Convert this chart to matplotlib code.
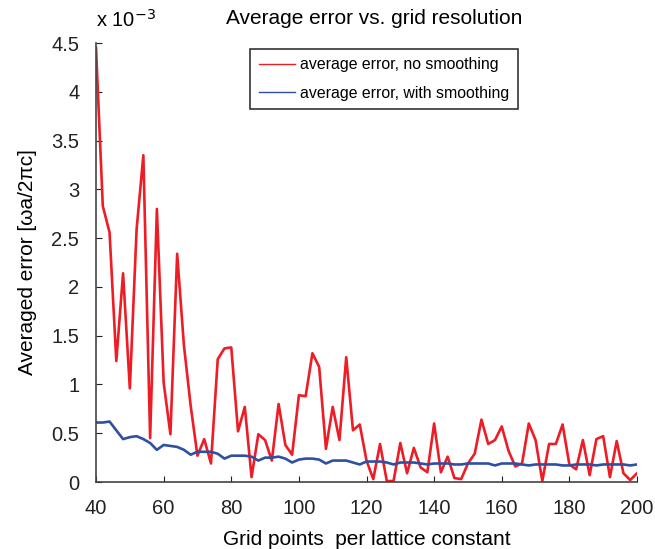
import matplotlib
matplotlib.use("Agg")
import matplotlib.pyplot as plt
import numpy as np

plt.rcParams['font.family'] = ['Liberation Sans', 'DejaVu Sans']

# grid points per lattice constant, every 2 from 40 to 200
grid = np.arange(40, 201, 2)

# average error in units of 1e-3
err_raw = [4.45, 2.83, 2.56, 1.24, 2.14, 0.96, 2.59, 3.35, 0.45, 2.80,
           1.02, 0.49, 2.34, 1.40, 0.78, 0.27, 0.44, 0.19, 1.26, 1.37,
           1.38, 0.52, 0.77, 0.05, 0.49, 0.43, 0.22, 0.80, 0.38, 0.28,
           0.89, 0.88, 1.32, 1.18, 0.34, 0.77, 0.43, 1.28, 0.53, 0.59,
           0.22, 0.03, 0.39, 0.01, 0.01, 0.40, 0.09, 0.35, 0.15, 0.10,
           0.60, 0.10, 0.26, 0.04, 0.03, 0.19, 0.29, 0.64, 0.39, 0.43,
           0.57, 0.32, 0.16, 0.19, 0.60, 0.43, 0.01, 0.39, 0.39, 0.59,
           0.18, 0.13, 0.43, 0.07, 0.44, 0.47, 0.05, 0.42, 0.09, 0.02,
           0.09]

err_smooth = [0.61, 0.61, 0.62, 0.53, 0.44, 0.46, 0.47, 0.44, 0.40, 0.33,
              0.38, 0.37, 0.36, 0.33, 0.28, 0.31, 0.31, 0.31, 0.29, 0.24,
              0.27, 0.27, 0.27, 0.26, 0.22, 0.25, 0.25, 0.26, 0.24, 0.20,
              0.23, 0.24, 0.24, 0.23, 0.19, 0.22, 0.22, 0.22, 0.20, 0.18,
              0.21, 0.21, 0.21, 0.20, 0.18, 0.20, 0.20, 0.20, 0.19, 0.18,
              0.19, 0.19, 0.19, 0.18, 0.18, 0.19, 0.19, 0.19, 0.19, 0.17,
              0.19, 0.19, 0.19, 0.18, 0.17, 0.18, 0.18, 0.18, 0.18, 0.17,
              0.17, 0.18, 0.18, 0.18, 0.17, 0.18, 0.18, 0.18, 0.18, 0.17,
              0.18]

xticks = np.arange(40, 201, 20)
yticks = np.arange(0, 4.51, 0.5)

fig = plt.figure(figsize=(6.55, 5.49), dpi=100)
ax = fig.add_axes([0.1466, 0.122, 0.8259, 0.7995])

ax.plot(grid, err_raw, color='#ee1c25', lw=1.9, label='average error, no smoothing')
ax.plot(grid, err_smooth, color='#2f4fa2', lw=1.9, label='average error, with smoothing')

ax.set_xlim(40, 200)
ax.set_ylim(0, 4.5)
ax.set_xticks(xticks)
ax.set_yticks(yticks)
ax.set_yticklabels(['%g' % v for v in yticks])
ax.tick_params(direction='in', length=4, labelsize=14.5, colors='#222222')
ax.tick_params(axis='x', pad=12)
ax.tick_params(axis='y', pad=12)
for s in ['top', 'right']:
    ax.spines[s].set_visible(False)
for s in ['left', 'bottom']:
    ax.spines[s].set_color('#444444')
    ax.spines[s].set_linewidth(1.2)

ax.set_xlabel('Grid points  per lattice constant', fontsize=15, labelpad=9)
ax.set_ylabel('Averaged error [\u03c9a/2\u03c0c]', fontsize=15, labelpad=10)

fig.text(96/655, 1 - 20/549, 'x 10$^{-3}$', fontsize=14.5, va='center', ha='left')
fig.text(374/655, 1 - 18/549, 'Average error vs. grid resolution', fontsize=15,
         va='center', ha='center')

leg = ax.legend(loc='upper left', bbox_to_anchor=(0.2847, 0.9875), borderaxespad=0,
                fontsize=11.4, frameon=True, fancybox=False, edgecolor='black',
                handlelength=2.3, handletextpad=0.3, borderpad=0.55, labelspacing=0.85)
leg.get_frame().set_linewidth(1.2)
for ln in leg.get_lines():
    ln.set_linewidth(1.0)

fig.savefig('out.png', dpi=100)
